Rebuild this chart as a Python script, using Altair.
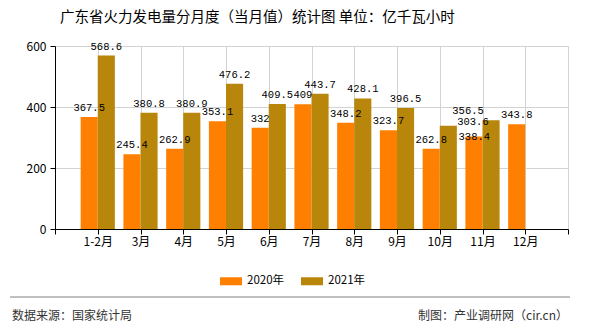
import json
import altair as alt
import pandas as pd

months = ["1-2月", "3月", "4月", "5月", "6月", "7月", "8月", "9月", "10月", "11月", "12月"]
v2020 = [367.5, 245.4, 262.9, 353.1, 332, 409, 348.2, 323.7, 262.8, 303.6, 343.8]
v2021 = [568.6, 380.8, 380.9, 476.2, 409.5, 443.7, 428.1, 396.5, 338.4, 356.5, None]
series = ["2020年", "2021年"]
colors = ["#FF8000", "#B8860B"]
y_ticks = [0, 200, 400, 600]
title_text = "广东省火力发电量分月度（当月值）统计图 单位：亿千瓦小时"
source_text = "数据来源：国家统计局"
credit_text = "制图：产业调研网（cir.cn）"

# label nudges (pixels) for the crowded labels, as in the reference
nudges = {("10月", "2021年"): (26, 20), ("11月", "2020年"): (-1, -5), ("11月", "2021年"): (-23, 0)}

rows = []
for i, m in enumerate(months):
    rows.append({"month": m, "idx": i + 1, "series": series[0], "value": v2020[i]})
    if v2021[i] is not None:
        rows.append({"month": m, "idx": i + 1, "series": series[1], "value": v2021[i]})
df = pd.DataFrame(rows)
df["key"] = df["month"] + "|" + df["series"]

label_expr = json.dumps([""] + months + [""], ensure_ascii=False) + "[datum.value]"

xscale = alt.Scale(domain=[0, len(months) + 1], nice=False, zero=False, padding=0)
yscale = alt.Scale(domain=[0, 600], nice=False, padding=0)

base = alt.Chart(df).transform_calculate(
    x0="datum.series == '2020年' ? datum.idx - 0.4 : datum.idx",
    x1="datum.series == '2020年' ? datum.idx : datum.idx + 0.4",
    xc="datum.series == '2020年' ? datum.idx - 0.2 : datum.idx + 0.2",
    lbl="'' + datum.value",
)

bars = base.mark_bar(orient="vertical").encode(
    x=alt.X("x0:Q", scale=xscale,
            axis=alt.Axis(values=list(range(len(months) + 2)), labelExpr=label_expr,
                          title=None, grid=True, labelOverlap=False, labelFlush=False,
                          labelPadding=2)),
    x2="x1:Q",
    y=alt.Y("value:Q", scale=yscale,
            axis=alt.Axis(values=y_ticks, title=None, grid=True, labelPadding=4)),
    y2=alt.datum(0),
    color=alt.Color("series:N", scale=alt.Scale(domain=series, range=colors),
                    legend=alt.Legend(title=None, orient="none", legendX=165, legendY=224,
                                      direction="horizontal", padding=0,
                                      symbolType="M-1,-0.364L1,-0.364L1,0.364L-1,0.364Z",
                                      symbolSize=484, symbolStrokeWidth=0,
                                      labelOffset=5, columnPadding=16,
                                      labelFont="Noto Sans CJK SC", labelFontSize=11.5,
                                      labelColor="#000000")),
)

nudge_keys = [m + "|" + s for (m, s) in nudges]
text_style = dict(font="Liberation Mono", fontSize=10.5, baseline="bottom", color="#000000")
text_enc = dict(x=alt.X("xc:Q", scale=xscale), y=alt.Y("value:Q", scale=yscale), text="lbl:N")

texts = base.transform_filter(
    {"not": alt.FieldOneOfPredicate(field="key", oneOf=nudge_keys)}
).mark_text(dy=-4, **text_style).encode(**text_enc)

layers = [bars, texts]
for (m, s), (dx, dy) in nudges.items():
    layers.append(
        base.transform_filter(alt.datum.key == m + "|" + s)
        .mark_text(dx=dx, dy=-4 + dy, **text_style).encode(**text_enc)
    )

title = alt.Chart(pd.DataFrame({"t": [title_text]})).mark_text(
    font="Noto Sans CJK SC", fontSize=14.5, align="left", baseline="middle", color="#000000"
).encode(x=alt.value(5), y=alt.value(-28), text="t:N")

rule = alt.Chart(pd.DataFrame({"t": [0]})).mark_rule(color="#808080", strokeWidth=1).encode(
    x=alt.value(-45), x2=alt.value(515), y=alt.value(251))

source = alt.Chart(pd.DataFrame({"t": [source_text]})).mark_text(
    font="Noto Sans CJK SC", fontSize=12, align="left", baseline="middle", color="#333333"
).encode(x=alt.value(-43), y=alt.value(270), text="t:N")

credit = alt.Chart(pd.DataFrame({"t": [credit_text]})).mark_text(
    font="Noto Sans CJK SC", fontSize=12, align="right", baseline="middle", color="#333333"
).encode(x=alt.value(513), y=alt.value(270), text="t:N")

chart = alt.layer(*layers, title, rule, source, credit).properties(
    width=513, height=183,
    autosize=alt.AutoSizeParams(type="none"),
    padding={"left": 55, "top": 46, "right": 22, "bottom": 101},
    background="#ffffff",
).configure_view(stroke=None).configure_axis(
    domainColor="#000000", tickColor="#000000", tickSize=5,
    labelFont="Noto Sans CJK SC", labelFontSize=12, labelColor="#000000",
    gridColor="#d3d3d3",
)

chart.save("out.html", embed_options={"renderer": "svg", "actions": False})
